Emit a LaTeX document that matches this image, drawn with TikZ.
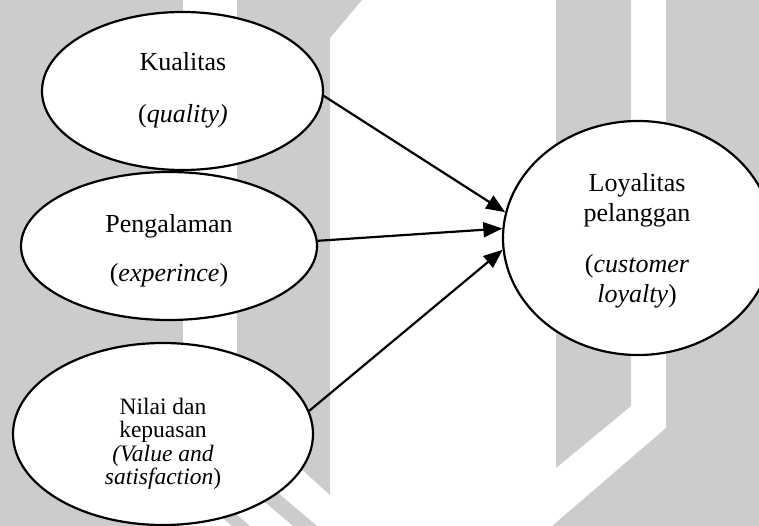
\documentclass[tikz,border=0pt]{standalone}
\usepackage{fontspec}
\setmainfont{Liberation Serif}
\usetikzlibrary{shapes.geometric,arrows.meta}
\definecolor{wmgray}{RGB}{204,204,204}
\begin{document}
\begin{tikzpicture}[x=1pt,y=-1pt,
  oval/.style={draw, ellipse, line width=2.2pt, fill=white, inner sep=0pt},
  caption/.style={align=center, inner sep=0pt, font=\fontsize{26}{30}\selectfont},
  smallcaption/.style={align=center, inner sep=0pt, font=\fontsize{23.5}{23.5}\selectfont},
  link/.style={line width=2.2pt, -{Triangle[length=19pt,width=15pt]}}]
\useasboundingbox (0,0) rectangle (759,526);

% light grey background emblem
\fill[wmgray] (0,0) rectangle (183,526);
\fill[wmgray] (237,0) -- (362,0) -- (330,38) -- (330,495) -- (237,411) -- cycle;
\fill[wmgray] (227,470) -- (251,470) -- (317,526) -- (293,526) -- cycle;
\fill[wmgray] (166,470) -- (184,470) -- (250,526) -- (232,526) -- cycle;
\fill[wmgray] (556,0) -- (631,0) -- (631,406) -- (556,468) -- cycle;
\fill[wmgray] (666,0) -- (759,0) -- (759,526) -- (552,526) -- (666,428) -- cycle;

% variables
\node[oval, minimum width=281pt, minimum height=158pt] (kual) at (182.5,91) {};
\node[oval, minimum width=296pt, minimum height=148pt] (peng) at (169,246) {};
\node[oval, minimum width=300pt, minimum height=182pt] (nilai) at (163,434) {};
\node[oval, minimum width=270pt, minimum height=234pt] (loyal) at (638,238) {};

% relations
\draw[link] (kual.-2) -- (loyal.169.4);
\draw[link] (peng.2.4) -- (loyal.176.5);
\draw[link] (nilai.9.5) -- (loyal.185.9);

% labels
\node[caption] (kualtxt) at (183,90) {Kualitas\\[22pt](\textit{quality)}};
\node[caption] (pengtxt) at (169,250.5) {Pengalaman\\[19pt](\textit{experince})};
\node[smallcaption] (nilaitxt) at (163,444) {Nilai dan\\kepuasan\\\textit{(Value and}\\\textit{satisfaction})};
\node[caption] (loyaltxt) at (637,241) {Loyalitas\\pelanggan\\[21pt](\textit{customer}\\\textit{loyalty})};
\end{tikzpicture}
\end{document}
